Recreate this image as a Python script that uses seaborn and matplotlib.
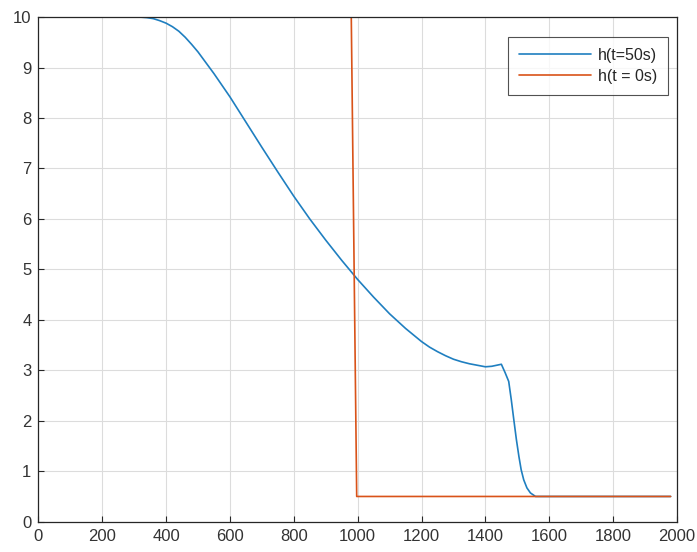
import numpy as np
import pandas as pd
import matplotlib
matplotlib.use("Agg")
import matplotlib.pyplot as plt
import seaborn as sns

# Data
x_blue = [0, 100, 200, 300, 320, 340, 360, 380, 400, 420, 440, 460, 480, 500, 550,
          600, 650, 700, 750, 800, 850, 900, 950, 1000, 1050, 1100, 1150, 1200,
          1225, 1250, 1275, 1300, 1325, 1350, 1375, 1400, 1420, 1435, 1450, 1462,
          1473, 1481, 1489, 1497, 1505, 1512, 1520, 1530, 1541, 1557, 1600, 1800, 1980]
h_blue = [10.0, 10.0, 10.0, 10.0, 10.0, 9.99, 9.97, 9.93, 9.88, 9.81, 9.72, 9.60,
          9.46, 9.31, 8.88, 8.42, 7.92, 7.42, 6.93, 6.45, 6.00, 5.58, 5.18, 4.80,
          4.45, 4.12, 3.83, 3.57, 3.46, 3.37, 3.29, 3.22, 3.17, 3.13, 3.10, 3.07,
          3.08, 3.10, 3.12, 2.95, 2.78, 2.42, 2.02, 1.63, 1.29, 1.03, 0.83, 0.67,
          0.57, 0.50, 0.50, 0.50, 0.50]
x_red = [0, 980, 997, 1980]
h_red = [10.0, 10.0, 0.5, 0.5]
labels = ["h(t=50s)", "h(t = 0s)"]
x_ticks = list(range(0, 2001, 200))
y_ticks = list(range(0, 11))

df = pd.concat([
    pd.DataFrame({"x": x_blue, "h": h_blue, "series": labels[0]}),
    pd.DataFrame({"x": x_red, "h": h_red, "series": labels[1]}),
])

sns.set_style("white")
plt.rcParams["font.family"] = ["Liberation Sans", "DejaVu Sans"]

fig = plt.figure(figsize=(6.97, 5.52), dpi=100)
ax = fig.add_axes([0.055, 0.0549, 0.9163, 0.9141])

sns.lineplot(data=df, x="x", y="h", hue="series", sort=False, estimator=None,
             palette=["#1f7fc0", "#D95319"], linewidth=1.2, ax=ax)

ax.set_xlim(0, 2000)
ax.set_ylim(0, 10)
ax.set_xticks(x_ticks)
ax.set_yticks(y_ticks)
ax.set_xlabel("")
ax.set_ylabel("")
ax.grid(True, color="#dcdcdc", linewidth=0.8)
ax.set_axisbelow(True)
for s in ax.spines.values():
    s.set_color("#262626")
    s.set_linewidth(0.9)
ax.tick_params(direction="in", length=4, width=0.8, color="#262626",
               labelsize=12, labelcolor="#333333", top=False, right=False,
               bottom=True, left=True, pad=5)

leg = ax.legend(loc="upper right", bbox_to_anchor=(0.986, 0.961), fontsize=11.5,
                frameon=True, fancybox=False, edgecolor="#262626",
                handlelength=4.5, borderpad=0.7, labelspacing=0.35,
                handletextpad=0.4, borderaxespad=0.0, title=None)
leg.get_frame().set_linewidth(0.8)

fig.savefig("out.png", dpi=100, facecolor="white")
